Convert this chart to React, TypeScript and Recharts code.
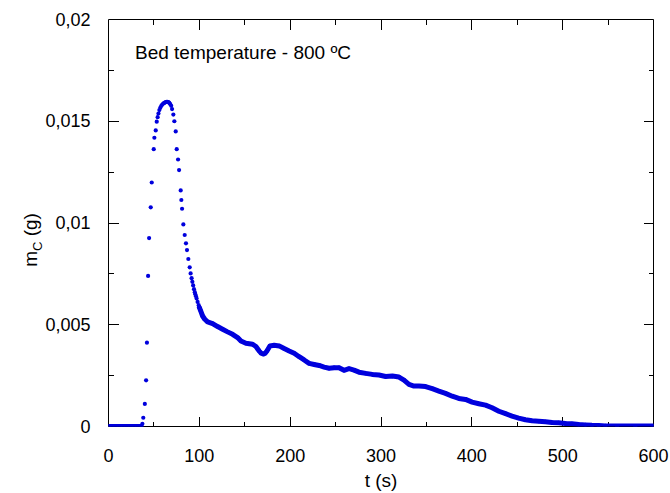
import { ScatterChart, Scatter, XAxis, YAxis } from 'recharts'

const BLUE = '#0000dd'
const FONT = '"Liberation Sans", Arial, sans-serif'

// carbon mass m_C in 10^-3 g, against time t in s

// flat start, before the release begins
const baseT = [0, 4, 8, 12, 16, 20, 24, 28, 32, 36]
const baseM = [0, 0, 0, 0, 0, 0, 0, 0, 0, 0]

// the peak, where the single points are still apart
const peakT = [
  37.3, 38.3, 40.0, 41.4, 42.3, 43.6, 44.7, 46.5, 47.6, 49.8, 50.5, 52.0, 53.1,
  54.1, 55.0, 56.0, 57.0, 58.0, 59.0, 60.0, 61.0, 62.0, 63.0, 64.0, 65.0, 66.0,
  67.0, 68.0, 69.0, 70.0, 71.4, 72.5, 74.0, 75.1, 76.6, 77.7, 79.5, 80.2, 81.0,
  82.4, 83.9, 85.3, 86.4, 87.9, 89.4, 90.4, 91.5, 92.3, 93.2, 94.1, 95.0, 95.6,
  96.3, 97.0, 98.1, 99.3,
]
const peakM = [
  0.13, 0.43, 1.11, 2.27, 4.12, 7.4, 9.26, 10.77, 11.99, 13.63, 14.19, 14.55, 14.98,
  15.2, 15.38, 15.55, 15.66, 15.75, 15.81, 15.86, 15.89, 15.92, 15.94, 15.95, 15.95, 15.94,
  15.9, 15.84, 15.76, 15.6, 15.33, 15.0, 14.5, 13.63, 13.12, 12.6, 11.6, 11.13, 10.7,
  9.93, 9.41, 9.0, 8.67, 8.23, 7.82, 7.52, 7.29, 7.11, 6.93, 6.75, 6.6, 6.5,
  6.4, 6.29, 6.12, 5.96,
]

// slow decay, points so dense they form a band
const tailT = [
  100, 101.5, 103.6, 106, 109.1, 114.6, 120.1, 125.6, 131.1, 136.6, 142.1, 145.8,
  151.3, 158.6, 162.3, 165.9, 168, 170.7, 172.5, 174.4, 177.7, 182.4, 187.9, 193.4,
  198.9, 204.4, 209.9, 215.4, 220.9, 226.4, 231.9, 237.4, 242.9, 248.4, 253.8, 259.3,
  264.8, 270.3, 275.8, 283.2, 290.4, 297.8, 305.1, 312.5, 319.8, 325.3, 330.8, 336.3,
  341.8, 349.1, 356.4, 363.7, 371, 378.4, 385.7, 393.1, 400.3, 407.7, 415.1, 422.3,
  429.7, 437.1, 444.3, 451.6, 459, 466.3, 473.6, 481, 488.2, 495.6, 503, 510.2,
  517.6, 525, 532.2, 539.6, 547, 560, 580, 600,
]
const tailM = [
  5.85, 5.68, 5.43, 5.27, 5.14, 5.06, 4.91, 4.78, 4.65, 4.53, 4.37, 4.2,
  4.09, 4.04, 3.93, 3.71, 3.6, 3.56, 3.6, 3.71, 3.96, 3.99, 3.96, 3.83,
  3.71, 3.6, 3.43, 3.27, 3.1, 3.05, 3.0, 2.92, 2.86, 2.89, 2.89, 2.76,
  2.84, 2.77, 2.67, 2.61, 2.56, 2.53, 2.46, 2.48, 2.43, 2.28, 2.07, 1.99,
  1.99, 1.96, 1.86, 1.74, 1.63, 1.49, 1.38, 1.33, 1.2, 1.12, 1.05, 0.92,
  0.75, 0.63, 0.51, 0.41, 0.33, 0.28, 0.26, 0.23, 0.2, 0.18, 0.15, 0.13,
  0.1, 0.08, 0.06, 0.05, 0.03, 0.02, 0.02, 0.02,
]

const xTicks = [0, 50, 100, 150, 200, 250, 300, 350, 400, 450, 500, 550, 600]
const yTicks = [0, 0.0025, 0.005, 0.0075, 0.01, 0.0125, 0.015, 0.0175, 0.02]

const toPoints = (ts: number[], ms: number[]) => ts.map((t, i) => ({ t, m: ms[i] / 1000 }))

const baseData = toPoints(baseT, baseM)
const peakData = toPoints(peakT, peakM)
const tailData = toPoints(tailT, tailM)

// inward tick marks on all four sides, placed through the chart's own scales
const tickData = [
  ...xTicks.map((t, i) => ({ t, m: 0, side: 'b', major: i % 2 === 0 })),
  ...xTicks.map((t, i) => ({ t, m: 0.02, side: 't', major: i % 2 === 0 })),
  ...yTicks.map((m, i) => ({ t: 0, m, side: 'l', major: i % 2 === 0 })),
  ...yTicks.map((m, i) => ({ t: 600, m, side: 'r', major: i % 2 === 0 })),
]

const fmtY = (v: number) => String(v).replace('.', ',')

// snap to a whole pixel so the 1px ticks stay sharp
const px = (v: number) => Math.round(v - 0.5)

function tickMark(p: any) {
  const { cx, cy, payload } = p
  const len = payload.major ? 10 : 5
  if (payload.side === 'b') return <rect x={px(cx)} y={Math.round(cy) - len} width={1} height={len} fill="#000" />
  if (payload.side === 't') return <rect x={px(cx)} y={Math.round(cy)} width={1} height={len} fill="#000" />
  if (payload.side === 'l') return <rect x={Math.round(cx)} y={px(cy)} width={len} height={1} fill="#000" />
  return <rect x={Math.round(cx) - len} y={px(cy)} width={len} height={1} fill="#000" />
}

function BottomLabel({ x, y, index, payload }: any) {
  if (index % 2 !== 0) return <g />
  return (
    <text x={x} y={y + 35} textAnchor="middle" fontSize={18} fontFamily={FONT} fill="#000">
      {payload.value}
    </text>
  )
}

function LeftLabel({ x, y, index, payload }: any) {
  if (index % 2 !== 0) return <g />
  return (
    <text x={x - 18} y={y + 6} textAnchor="end" fontSize={18} fontFamily={FONT} fill="#000">
      {fmtY(payload.value)}
    </text>
  )
}

// titles and the note, drawn inside the chart svg through axis labels
const xTitle = () => (
  <text x={381} y={487} textAnchor="middle" fontSize={19} fontFamily={FONT} fill="#000">t (s)</text>
)
const yTitle = () => (
  <text transform="translate(37,240) rotate(-90)" textAnchor="middle" fontSize={19} fontFamily={FONT} fill="#000">
    m<tspan dy={5} fontSize={13}>C</tspan><tspan dy={-5}> (g)</tspan>
  </text>
)
const note = () => (
  <text x={135} y={59} fontSize={19} fontFamily={FONT} fill="#000">Bed temperature - 800 ºC</text>
)

const dot = (p: any) => <circle cx={p.cx} cy={p.cy} r={2.1} fill={BLUE} />
const band = { stroke: BLUE, strokeWidth: 5, strokeLinejoin: 'round', strokeLinecap: 'round' }

export default function App() {
  return (
    <div style={{ position: 'absolute', left: 0, top: 0, width: 670, height: 493, background: '#fff' }}>
      <ScatterChart width={670} height={493} margin={{ top: 18.5, right: 15.5, bottom: 0, left: 0 }}>
        <XAxis xAxisId="b" dataKey="t" type="number" domain={[0, 600]} ticks={xTicks} interval={0}
          allowDataOverflow tickSize={0} tickMargin={0} tickLine={false} height={66.5} stroke="#000"
          tick={<BottomLabel />} label={{ content: xTitle }} />
        <XAxis xAxisId="t" orientation="top" dataKey="t" type="number" domain={[0, 600]}
          allowDataOverflow tick={false} tickLine={false} height={1} stroke="#000" label={{ content: note }} />
        <YAxis yAxisId="l" dataKey="m" type="number" domain={[0, 0.02]} ticks={yTicks} interval={0}
          allowDataOverflow tickSize={0} tickMargin={0} tickLine={false} width={108.5} stroke="#000"
          tick={<LeftLabel />} label={{ content: yTitle }} />
        <YAxis yAxisId="r" orientation="right" dataKey="m" type="number" domain={[0, 0.02]}
          allowDataOverflow tick={false} tickLine={false} width={1} stroke="#000" />
        <Scatter xAxisId="b" yAxisId="l" data={tickData} fill="#000" shape={tickMark} isAnimationActive={false} />
        <Scatter xAxisId="b" yAxisId="l" data={baseData} fill={BLUE} shape={dot} line={band} isAnimationActive={false} />
        <Scatter xAxisId="b" yAxisId="l" data={peakData} fill={BLUE} shape={dot} isAnimationActive={false} />
        <Scatter xAxisId="b" yAxisId="l" data={tailData} fill={BLUE} shape={dot} line={band} isAnimationActive={false} />
      </ScatterChart>
    </div>
  )
}
